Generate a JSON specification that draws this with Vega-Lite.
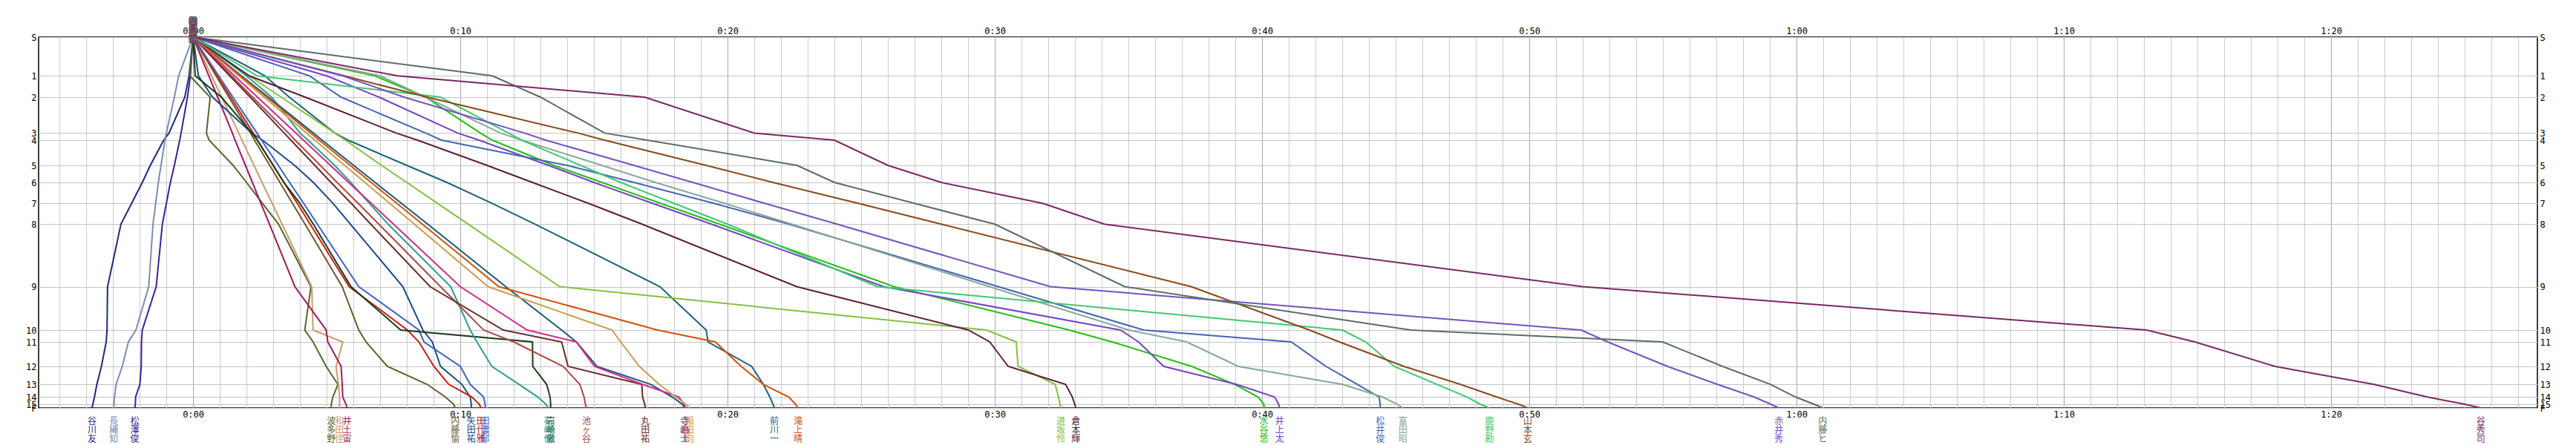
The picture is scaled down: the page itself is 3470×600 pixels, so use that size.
{
"$schema": "https://vega.github.io/schema/vega-lite/v6.json",
"width": 3366, "height": 500,
"autosize": "none",
"padding": {"left": 52, "top": 50, "right": 52, "bottom": 50},
"background": "white",
"config": {"view": {"stroke": "#000000", "strokeWidth": 1.5}},
"datasets": {"pts": [
{"n":"谷川友","d":0,"t":0},{"n":"谷川友","d":52.3,"t":-0.15},{"n":"谷川友","d":81,"t":-0.31},{"n":"谷川友","d":129.4,"t":-0.9},{"n":"谷川友","d":139,"t":-1.1},{"n":"谷川友","d":173,"t":-1.6},{"n":"谷川友","d":196,"t":-1.9},{"n":"谷川友","d":224.3,"t":-2.3},{"n":"谷川友","d":252.3,"t":-2.7},{"n":"谷川友","d":336.5,"t":-3.2},{"n":"谷川友","d":395,"t":-3.22},{"n":"谷川友","d":411,"t":-3.25},{"n":"谷川友","d":444,"t":-3.43},{"n":"谷川友","d":468.3,"t":-3.6},{"n":"谷川友","d":485.3,"t":-3.69},{"n":"谷川友","d":495,"t":-3.75},{"n":"谷川友","d":500,"t":-3.78},
{"n":"長縄知","d":0,"t":0},{"n":"長縄知","d":52.3,"t":-0.54},{"n":"長縄知","d":81,"t":-0.7},{"n":"長縄知","d":129.4,"t":-1.0},{"n":"長縄知","d":139,"t":-1.05},{"n":"長縄知","d":173,"t":-1.2},{"n":"長縄知","d":196,"t":-1.3},{"n":"長縄知","d":224.3,"t":-1.4},{"n":"長縄知","d":252.3,"t":-1.5},{"n":"長縄知","d":336.5,"t":-1.66},{"n":"長縄知","d":395,"t":-2.14},{"n":"長縄知","d":411,"t":-2.42},{"n":"長縄知","d":444,"t":-2.65},{"n":"長縄知","d":468.3,"t":-2.88},{"n":"長縄知","d":485.3,"t":-2.94},{"n":"長縄知","d":495,"t":-2.96},{"n":"長縄知","d":500,"t":-2.97},
{"n":"松澤俊","d":0,"t":0},{"n":"松澤俊","d":52.3,"t":-0.1},{"n":"松澤俊","d":81,"t":-0.21},{"n":"松澤俊","d":129.4,"t":-0.45},{"n":"松澤俊","d":139,"t":-0.5},{"n":"松澤俊","d":173,"t":-0.7},{"n":"松澤俊","d":196,"t":-0.85},{"n":"松澤俊","d":224.3,"t":-1.0},{"n":"松澤俊","d":252.3,"t":-1.15},{"n":"松澤俊","d":336.5,"t":-1.38},{"n":"松澤俊","d":395,"t":-1.9},{"n":"松澤俊","d":411,"t":-1.93},{"n":"松澤俊","d":444,"t":-1.94},{"n":"松澤俊","d":468.3,"t":-1.99},{"n":"松澤俊","d":485.3,"t":-2.15},{"n":"松澤俊","d":495,"t":-2.16},{"n":"松澤俊","d":500,"t":-2.18},
{"n":"波多野","d":0,"t":0},{"n":"波多野","d":52.3,"t":-0.12},{"n":"波多野","d":81,"t":0.64},{"n":"波多野","d":129.4,"t":0.5},{"n":"波多野","d":139,"t":0.6},{"n":"波多野","d":173,"t":1.5},{"n":"波多野","d":196,"t":2.0},{"n":"波多野","d":224.3,"t":2.6},{"n":"波多野","d":252.3,"t":3.2},{"n":"波多野","d":336.5,"t":4.41},{"n":"波多野","d":395,"t":4.18},{"n":"波多野","d":411,"t":4.49},{"n":"波多野","d":444,"t":4.98},{"n":"波多野","d":468.3,"t":5.42},{"n":"波多野","d":485.3,"t":5.23},{"n":"波多野","d":495,"t":5.17},{"n":"波多野","d":500,"t":5.17},
{"n":"和田佳","d":0,"t":0},{"n":"和田佳","d":52.3,"t":0.69},{"n":"和田佳","d":81,"t":1.07},{"n":"和田佳","d":129.4,"t":1.71},{"n":"和田佳","d":139,"t":1.83},{"n":"和田佳","d":173,"t":2.28},{"n":"和田佳","d":196,"t":2.58},{"n":"和田佳","d":224.3,"t":2.96},{"n":"和田佳","d":252.3,"t":3.33},{"n":"和田佳","d":336.5,"t":4.44},{"n":"和田佳","d":395,"t":4.49},{"n":"和田佳","d":411,"t":5.6},{"n":"和田佳","d":444,"t":5.35},{"n":"和田佳","d":468.3,"t":5.44},{"n":"和田佳","d":485.3,"t":5.48},{"n":"和田佳","d":495,"t":5.48},{"n":"和田佳","d":500,"t":5.48},
{"n":"井土宙","d":0,"t":0},{"n":"井土宙","d":52.3,"t":0.59},{"n":"井土宙","d":81,"t":0.92},{"n":"井土宙","d":129.4,"t":1.47},{"n":"井土宙","d":139,"t":1.57},{"n":"井土宙","d":173,"t":1.96},{"n":"井土宙","d":196,"t":2.22},{"n":"井土宙","d":224.3,"t":2.54},{"n":"井土宙","d":252.3,"t":2.86},{"n":"井土宙","d":336.5,"t":3.81},{"n":"井土宙","d":395,"t":4.98},{"n":"井土宙","d":411,"t":5.04},{"n":"井土宙","d":444,"t":5.54},{"n":"井土宙","d":468.3,"t":5.58},{"n":"井土宙","d":485.3,"t":5.6},{"n":"井土宙","d":495,"t":5.72},{"n":"井土宙","d":500,"t":5.76},
{"n":"内藤愉","d":0,"t":0},{"n":"内藤愉","d":52.3,"t":0.86},{"n":"内藤愉","d":81,"t":1.34},{"n":"内藤愉","d":129.4,"t":2.15},{"n":"内藤愉","d":139,"t":2.3},{"n":"内藤愉","d":173,"t":2.87},{"n":"内藤愉","d":196,"t":3.25},{"n":"内藤愉","d":224.3,"t":3.72},{"n":"内藤愉","d":252.3,"t":4.19},{"n":"内藤愉","d":336.5,"t":5.58},{"n":"内藤愉","d":395,"t":6.2},{"n":"内藤愉","d":411,"t":6.47},{"n":"内藤愉","d":444,"t":7.27},{"n":"内藤愉","d":468.3,"t":8.76},{"n":"内藤愉","d":485.3,"t":9.44},{"n":"内藤愉","d":495,"t":9.75},{"n":"内藤愉","d":500,"t":9.81},
{"n":"矢田祐","d":0,"t":0},{"n":"矢田祐","d":52.3,"t":0.2},{"n":"矢田祐","d":81,"t":0.73},{"n":"矢田祐","d":129.4,"t":2.2},{"n":"矢田祐","d":139,"t":2.6},{"n":"矢田祐","d":173,"t":3.8},{"n":"矢田祐","d":196,"t":4.5},{"n":"矢田祐","d":224.3,"t":5.24},{"n":"矢田祐","d":252.3,"t":5.89},{"n":"矢田祐","d":336.5,"t":7.85},{"n":"矢田祐","d":395,"t":8.6},{"n":"矢田祐","d":411,"t":8.95},{"n":"矢田祐","d":444,"t":9.26},{"n":"矢田祐","d":468.3,"t":10.06},{"n":"矢田祐","d":485.3,"t":10.37},{"n":"矢田祐","d":495,"t":10.41},{"n":"矢田祐","d":500,"t":10.41},
{"n":"田代雅","d":0,"t":0},{"n":"田代雅","d":52.3,"t":0.9},{"n":"田代雅","d":81,"t":1.41},{"n":"田代雅","d":129.4,"t":2.25},{"n":"田代雅","d":139,"t":2.41},{"n":"田代雅","d":173,"t":3.0},{"n":"田代雅","d":196,"t":3.4},{"n":"田代雅","d":224.3,"t":3.9},{"n":"田代雅","d":252.3,"t":4.38},{"n":"田代雅","d":336.5,"t":5.84},{"n":"田代雅","d":395,"t":8.02},{"n":"田代雅","d":411,"t":8.45},{"n":"田代雅","d":444,"t":9.01},{"n":"田代雅","d":468.3,"t":9.57},{"n":"田代雅","d":485.3,"t":10.43},{"n":"田代雅","d":495,"t":10.71},{"n":"田代雅","d":500,"t":10.77},
{"n":"田濃郁","d":0,"t":0},{"n":"田濃郁","d":52.3,"t":0.96},{"n":"田濃郁","d":81,"t":1.49},{"n":"田濃郁","d":129.4,"t":2.39},{"n":"田濃郁","d":139,"t":2.56},{"n":"田濃郁","d":173,"t":3.19},{"n":"田濃郁","d":196,"t":3.61},{"n":"田濃郁","d":224.3,"t":4.14},{"n":"田濃郁","d":252.3,"t":4.65},{"n":"田濃郁","d":336.5,"t":6.2},{"n":"田濃郁","d":395,"t":8.45},{"n":"田濃郁","d":411,"t":8.64},{"n":"田濃郁","d":444,"t":10.0},{"n":"田濃郁","d":468.3,"t":10.37},{"n":"田濃郁","d":485.3,"t":10.87},{"n":"田濃郁","d":495,"t":10.93},{"n":"田濃郁","d":500,"t":10.93},
{"n":"岩崎傲","d":0,"t":0},{"n":"岩崎傲","d":52.3,"t":0.08},{"n":"岩崎傲","d":81,"t":1.06},{"n":"岩崎傲","d":129.4,"t":2.2},{"n":"岩崎傲","d":139,"t":2.4},{"n":"岩崎傲","d":173,"t":3.0},{"n":"岩崎傲","d":196,"t":3.4},{"n":"岩崎傲","d":224.3,"t":4.0},{"n":"岩崎傲","d":252.3,"t":4.5},{"n":"岩崎傲","d":336.5,"t":5.91},{"n":"岩崎傲","d":395,"t":7.77},{"n":"岩崎傲","d":411,"t":12.7},{"n":"岩崎傲","d":444,"t":12.71},{"n":"岩崎傲","d":468.3,"t":13.23},{"n":"岩崎傲","d":485.3,"t":13.36},{"n":"岩崎傲","d":495,"t":13.38},{"n":"岩崎傲","d":500,"t":13.38},
{"n":"石崎俊","d":0,"t":0},{"n":"石崎俊","d":52.3,"t":2.0},{"n":"石崎俊","d":81,"t":2.94},{"n":"石崎俊","d":129.4,"t":4.0},{"n":"石崎俊","d":139,"t":4.3},{"n":"石崎俊","d":173,"t":5.3},{"n":"石崎俊","d":196,"t":5.9},{"n":"石崎俊","d":224.3,"t":6.6},{"n":"石崎俊","d":252.3,"t":7.3},{"n":"石崎俊","d":336.5,"t":9.64},{"n":"石崎俊","d":395,"t":10.37},{"n":"石崎俊","d":411,"t":10.62},{"n":"石崎俊","d":444,"t":11.18},{"n":"石崎俊","d":468.3,"t":12.2},{"n":"石崎俊","d":485.3,"t":12.9},{"n":"石崎俊","d":495,"t":13.2},{"n":"石崎俊","d":500,"t":13.29},
{"n":"池ヶ谷","d":0,"t":0},{"n":"池ヶ谷","d":52.3,"t":1.44},{"n":"池ヶ谷","d":81,"t":2.23},{"n":"池ヶ谷","d":129.4,"t":3.57},{"n":"池ヶ谷","d":139,"t":3.82},{"n":"池ヶ谷","d":173,"t":4.76},{"n":"池ヶ谷","d":196,"t":5.39},{"n":"池ヶ谷","d":224.3,"t":6.18},{"n":"池ヶ谷","d":252.3,"t":6.95},{"n":"池ヶ谷","d":336.5,"t":9.26},{"n":"池ヶ谷","d":395,"t":10.87},{"n":"池ヶ谷","d":411,"t":12.0},{"n":"池ヶ谷","d":444,"t":13.85},{"n":"池ヶ谷","d":468.3,"t":14.47},{"n":"池ヶ谷","d":485.3,"t":14.63},{"n":"池ヶ谷","d":495,"t":14.68},{"n":"池ヶ谷","d":500,"t":14.72},
{"n":"丸田祐","d":0,"t":0},{"n":"丸田祐","d":52.3,"t":1.37},{"n":"丸田祐","d":81,"t":2.14},{"n":"丸田祐","d":129.4,"t":3.41},{"n":"丸田祐","d":139,"t":3.66},{"n":"丸田祐","d":173,"t":4.56},{"n":"丸田祐","d":196,"t":5.16},{"n":"丸田祐","d":224.3,"t":5.92},{"n":"丸田祐","d":252.3,"t":6.65},{"n":"丸田祐","d":336.5,"t":8.87},{"n":"丸田祐","d":395,"t":11.61},{"n":"丸田祐","d":411,"t":13.79},{"n":"丸田祐","d":444,"t":14.03},{"n":"丸田祐","d":468.3,"t":16.79},{"n":"丸田祐","d":485.3,"t":16.82},{"n":"丸田祐","d":495,"t":16.9},{"n":"丸田祐","d":500,"t":16.92},
{"n":"寺嶋士","d":0,"t":0},{"n":"寺嶋士","d":52.3,"t":1.81},{"n":"寺嶋士","d":81,"t":2.82},{"n":"寺嶋士","d":129.4,"t":4.5},{"n":"寺嶋士","d":139,"t":4.83},{"n":"寺嶋士","d":173,"t":6.01},{"n":"寺嶋士","d":196,"t":6.81},{"n":"寺嶋士","d":224.3,"t":7.8},{"n":"寺嶋士","d":252.3,"t":8.78},{"n":"寺嶋士","d":336.5,"t":11.7},{"n":"寺嶋士","d":395,"t":13.79},{"n":"寺嶋士","d":411,"t":14.34},{"n":"寺嶋士","d":444,"t":15.11},{"n":"寺嶋士","d":468.3,"t":17.13},{"n":"寺嶋士","d":485.3,"t":17.93},{"n":"寺嶋士","d":495,"t":18.3},{"n":"寺嶋士","d":500,"t":18.39},
{"n":"寺島土","d":0,"t":0},{"n":"寺島土","d":52.3,"t":1.55},{"n":"寺島土","d":81,"t":2.41},{"n":"寺島土","d":129.4,"t":3.85},{"n":"寺島土","d":139,"t":4.13},{"n":"寺島土","d":173,"t":5.14},{"n":"寺島土","d":196,"t":5.82},{"n":"寺島土","d":224.3,"t":6.67},{"n":"寺島土","d":252.3,"t":7.5},{"n":"寺島土","d":336.5,"t":10.0},{"n":"寺島土","d":395,"t":12.5},{"n":"寺島土","d":411,"t":14.34},{"n":"寺島土","d":444,"t":15.02},{"n":"寺島土","d":468.3,"t":16.82},{"n":"寺島土","d":485.3,"t":18.18},{"n":"寺島土","d":495,"t":18.37},{"n":"寺島土","d":500,"t":18.43},
{"n":"稲田向","d":0,"t":0},{"n":"稲田向","d":52.3,"t":1.71},{"n":"稲田向","d":81,"t":2.66},{"n":"稲田向","d":129.4,"t":4.25},{"n":"稲田向","d":139,"t":4.56},{"n":"稲田向","d":173,"t":5.67},{"n":"稲田向","d":196,"t":6.43},{"n":"稲田向","d":224.3,"t":7.36},{"n":"稲田向","d":252.3,"t":8.28},{"n":"稲田向","d":336.5,"t":11.04},{"n":"稲田向","d":395,"t":15.68},{"n":"稲田向","d":411,"t":16.0},{"n":"稲田向","d":444,"t":16.7},{"n":"稲田向","d":468.3,"t":17.44},{"n":"稲田向","d":485.3,"t":18.06},{"n":"稲田向","d":495,"t":18.43},{"n":"稲田向","d":500,"t":18.58},
{"n":"前川一","d":0,"t":0},{"n":"前川一","d":52.3,"t":2.69},{"n":"前川一","d":81,"t":3.6},{"n":"前川一","d":129.4,"t":5.3},{"n":"前川一","d":139,"t":5.8},{"n":"前川一","d":173,"t":8.0},{"n":"前川一","d":196,"t":9.5},{"n":"前川一","d":224.3,"t":11.2},{"n":"前川一","d":252.3,"t":12.8},{"n":"前川一","d":336.5,"t":17.47},{"n":"前川一","d":395,"t":19.2},{"n":"前川一","d":411,"t":19.27},{"n":"前川一","d":444,"t":20.9},{"n":"前川一","d":468.3,"t":21.34},{"n":"前川一","d":485.3,"t":21.58},{"n":"前川一","d":495,"t":21.7},{"n":"前川一","d":500,"t":21.75},
{"n":"滝上晴","d":0,"t":0},{"n":"滝上晴","d":52.3,"t":1.77},{"n":"滝上晴","d":81,"t":2.76},{"n":"滝上晴","d":129.4,"t":4.4},{"n":"滝上晴","d":139,"t":4.72},{"n":"滝上晴","d":173,"t":5.88},{"n":"滝上晴","d":196,"t":6.66},{"n":"滝上晴","d":224.3,"t":7.63},{"n":"滝上晴","d":252.3,"t":8.58},{"n":"滝上晴","d":336.5,"t":11.44},{"n":"滝上晴","d":395,"t":17.38},{"n":"滝上晴","d":411,"t":19.54},{"n":"滝上晴","d":444,"t":20.51},{"n":"滝上晴","d":468.3,"t":21.34},{"n":"滝上晴","d":485.3,"t":22.29},{"n":"滝上晴","d":495,"t":22.54},{"n":"滝上晴","d":500,"t":22.64},
{"n":"道坂怜","d":0,"t":0},{"n":"道坂怜","d":52.3,"t":2.1},{"n":"道坂怜","d":81,"t":3.3},{"n":"道坂怜","d":129.4,"t":5.3},{"n":"道坂怜","d":139,"t":5.7},{"n":"道坂怜","d":173,"t":7.05},{"n":"道坂怜","d":196,"t":8.0},{"n":"道坂怜","d":224.3,"t":9.15},{"n":"道坂怜","d":252.3,"t":10.3},{"n":"道坂怜","d":336.5,"t":13.72},{"n":"道坂怜","d":395,"t":29.69},{"n":"道坂怜","d":411,"t":30.8},{"n":"道坂怜","d":444,"t":30.87},{"n":"道坂怜","d":468.3,"t":32.26},{"n":"道坂怜","d":485.3,"t":32.38},{"n":"道坂怜","d":495,"t":32.44},{"n":"道坂怜","d":500,"t":32.47},
{"n":"倉本輝","d":0,"t":0},{"n":"倉本輝","d":52.3,"t":2.1},{"n":"倉本輝","d":81,"t":4.2},{"n":"倉本輝","d":129.4,"t":7.6},{"n":"倉本輝","d":139,"t":8.4},{"n":"倉本輝","d":173,"t":11.0},{"n":"倉本輝","d":196,"t":12.7},{"n":"倉本輝","d":224.3,"t":14.8},{"n":"倉本輝","d":252.3,"t":16.8},{"n":"倉本輝","d":336.5,"t":22.59},{"n":"倉本輝","d":395,"t":29.01},{"n":"倉本輝","d":411,"t":29.81},{"n":"倉本輝","d":444,"t":30.5},{"n":"倉本輝","d":468.3,"t":32.65},{"n":"倉本輝","d":485.3,"t":32.9},{"n":"倉本輝","d":495,"t":32.99},{"n":"倉本輝","d":500,"t":33.03},
{"n":"水谷悠","d":0,"t":0},{"n":"水谷悠","d":52.3,"t":6.8},{"n":"水谷悠","d":81,"t":8.7},{"n":"水谷悠","d":129.4,"t":10.75},{"n":"水谷悠","d":139,"t":11.2},{"n":"水谷悠","d":173,"t":13.5},{"n":"水谷悠","d":196,"t":15.3},{"n":"水谷悠","d":224.3,"t":17.5},{"n":"水谷悠","d":252.3,"t":19.7},{"n":"水谷悠","d":336.5,"t":26.23},{"n":"水谷悠","d":395,"t":32.78},{"n":"水谷悠","d":411,"t":34.39},{"n":"水谷悠","d":444,"t":37.37},{"n":"水谷悠","d":468.3,"t":38.98},{"n":"水谷悠","d":485.3,"t":39.85},{"n":"水谷悠","d":495,"t":40.07},{"n":"水谷悠","d":500,"t":40.07},
{"n":"井上太","d":0,"t":0},{"n":"井上太","d":52.3,"t":5.0},{"n":"井上太","d":81,"t":6.96},{"n":"井上太","d":129.4,"t":9.9},{"n":"井上太","d":139,"t":10.7},{"n":"井上太","d":173,"t":13.3},{"n":"井上太","d":196,"t":15.0},{"n":"井上太","d":224.3,"t":17.2},{"n":"井上太","d":252.3,"t":19.4},{"n":"井上太","d":336.5,"t":25.84},{"n":"井上太","d":395,"t":34.7},{"n":"井上太","d":411,"t":35.38},{"n":"井上太","d":444,"t":36.32},{"n":"井上太","d":468.3,"t":39.04},{"n":"井上太","d":485.3,"t":40.47},{"n":"井上太","d":495,"t":40.62},{"n":"井上太","d":500,"t":40.66},
{"n":"松井俊","d":0,"t":0},{"n":"松井俊","d":52.3,"t":4.36},{"n":"松井俊","d":81,"t":5.54},{"n":"松井俊","d":129.4,"t":8.7},{"n":"松井俊","d":139,"t":9.3},{"n":"松井俊","d":173,"t":14.0},{"n":"松井俊","d":196,"t":16.5},{"n":"松井俊","d":224.3,"t":19.5},{"n":"松井俊","d":252.3,"t":22.3},{"n":"松井俊","d":336.5,"t":30.13},{"n":"松井俊","d":395,"t":35.57},{"n":"松井俊","d":411,"t":41.09},{"n":"松井俊","d":444,"t":42.39},{"n":"松井俊","d":468.3,"t":43.57},{"n":"松井俊","d":485.3,"t":44.38},{"n":"松井俊","d":495,"t":44.42},{"n":"松井俊","d":500,"t":44.42},
{"n":"富田昭","d":0,"t":0},{"n":"富田昭","d":52.3,"t":7.0},{"n":"富田昭","d":81,"t":8.7},{"n":"富田昭","d":129.4,"t":11.5},{"n":"富田昭","d":139,"t":12.3},{"n":"富田昭","d":173,"t":15.3},{"n":"富田昭","d":196,"t":17.3},{"n":"富田昭","d":224.3,"t":19.9},{"n":"富田昭","d":252.3,"t":22.4},{"n":"富田昭","d":336.5,"t":29.8},{"n":"富田昭","d":395,"t":35.01},{"n":"富田昭","d":411,"t":37.18},{"n":"富田昭","d":444,"t":39.11},{"n":"富田昭","d":468.3,"t":43.01},{"n":"富田昭","d":485.3,"t":44.5},{"n":"富田昭","d":495,"t":45.06},{"n":"富田昭","d":500,"t":45.27},
{"n":"鹿野勘","d":0,"t":0},{"n":"鹿野勘","d":52.3,"t":2.4},{"n":"鹿野勘","d":81,"t":9.26},{"n":"鹿野勘","d":129.4,"t":11.8},{"n":"鹿野勘","d":139,"t":12.3},{"n":"鹿野勘","d":173,"t":14.5},{"n":"鹿野勘","d":196,"t":16.0},{"n":"鹿野勘","d":224.3,"t":18.0},{"n":"鹿野勘","d":252.3,"t":20.0},{"n":"鹿野勘","d":336.5,"t":25.6},{"n":"鹿野勘","d":395,"t":43.01},{"n":"鹿野勘","d":411,"t":43.88},{"n":"鹿野勘","d":444,"t":44.94},{"n":"鹿野勘","d":468.3,"t":46.55},{"n":"鹿野勘","d":485.3,"t":47.67},{"n":"鹿野勘","d":495,"t":48.16},{"n":"鹿野勘","d":500,"t":48.51},
{"n":"山本玄","d":0,"t":0},{"n":"山本玄","d":52.3,"t":5.66},{"n":"山本玄","d":81,"t":8.76},{"n":"山本玄","d":129.4,"t":14.4},{"n":"山本玄","d":139,"t":15.4},{"n":"山本玄","d":173,"t":19.2},{"n":"山本玄","d":196,"t":21.7},{"n":"山本玄","d":224.3,"t":24.9},{"n":"山本玄","d":252.3,"t":28.0},{"n":"山本玄","d":336.5,"t":37.35},{"n":"山本玄","d":395,"t":41.77},{"n":"山本玄","d":411,"t":42.89},{"n":"山本玄","d":444,"t":45.31},{"n":"山本玄","d":468.3,"t":47.42},{"n":"山本玄","d":485.3,"t":48.78},{"n":"山本玄","d":495,"t":49.59},{"n":"山本玄","d":500,"t":49.94},
{"n":"赤井秀","d":0,"t":0},{"n":"赤井秀","d":52.3,"t":5.6},{"n":"赤井秀","d":81,"t":7.9},{"n":"赤井秀","d":129.4,"t":12.4},{"n":"赤井秀","d":139,"t":13.2},{"n":"赤井秀","d":173,"t":16.5},{"n":"赤井秀","d":196,"t":18.7},{"n":"赤井秀","d":224.3,"t":21.4},{"n":"赤井秀","d":252.3,"t":24.1},{"n":"赤井秀","d":336.5,"t":32.08},{"n":"赤井秀","d":395,"t":51.94},{"n":"赤井秀","d":411,"t":52.93},{"n":"赤井秀","d":444,"t":55.17},{"n":"赤井秀","d":468.3,"t":57.04},{"n":"赤井秀","d":485.3,"t":58.41},{"n":"赤井秀","d":495,"t":59.03},{"n":"赤井秀","d":500,"t":59.34},
{"n":"内藤ヒ","d":0,"t":0},{"n":"内藤ヒ","d":52.3,"t":11.2},{"n":"内藤ヒ","d":81,"t":13.0},{"n":"内藤ヒ","d":129.4,"t":15.4},{"n":"内藤ヒ","d":139,"t":17.0},{"n":"内藤ヒ","d":173,"t":22.6},{"n":"内藤ヒ","d":196,"t":24.0},{"n":"内藤ヒ","d":224.3,"t":27.0},{"n":"内藤ヒ","d":252.3,"t":30.0},{"n":"内藤ヒ","d":336.5,"t":34.86},{"n":"内藤ヒ","d":395,"t":45.56},{"n":"内藤ヒ","d":411,"t":54.99},{"n":"内藤ヒ","d":444,"t":57.23},{"n":"内藤ヒ","d":468.3,"t":59.03},{"n":"内藤ヒ","d":485.3,"t":59.96},{"n":"内藤ヒ","d":495,"t":60.65},{"n":"内藤ヒ","d":500,"t":60.98},
{"n":"谷秀司","d":0,"t":0},{"n":"谷秀司","d":52.3,"t":7.65},{"n":"谷秀司","d":81,"t":16.9},{"n":"谷秀司","d":129.4,"t":21.0},{"n":"谷秀司","d":139,"t":24.0},{"n":"谷秀司","d":173,"t":26.0},{"n":"谷秀司","d":196,"t":28.0},{"n":"谷秀司","d":224.3,"t":31.8},{"n":"谷秀司","d":252.3,"t":34.1},{"n":"谷秀司","d":336.5,"t":52.0},{"n":"谷秀司","d":395,"t":73.1},{"n":"谷秀司","d":411,"t":74.9},{"n":"谷秀司","d":444,"t":77.9},{"n":"谷秀司","d":468.3,"t":81.6},{"n":"谷秀司","d":485.3,"t":83.6},{"n":"谷秀司","d":495,"t":85.0},{"n":"谷秀司","d":500,"t":85.6}
]},
"resolve": {"axis": {"x": "independent", "y": "independent"}},
"layer": [
{
"data": {"name": "pts"},
"mark": {"type": "line", "strokeWidth": 2, "clip": true},
"encoding": {
"x": {"field": "t", "type": "quantitative", "scale": {"domain": [-5.78, 87.72], "nice": false, "zero": false},
"axis": {"orient": "bottom", "title": null, "values": [-5,-4,-3,-2,-1,0,1,2,3,4,5,6,7,8,9,10,11,12,13,14,15,16,17,18,19,20,21,22,23,24,25,26,27,28,29,30,31,32,33,34,35,36,37,38,39,40,41,42,43,44,45,46,47,48,49,50,51,52,53,54,55,56,57,58,59,60,61,62,63,64,65,66,67,68,69,70,71,72,73,74,75,76,77,78,79,80,81,82,83,84,85,86,87],
"labelExpr": "datum.value % 10 === 0 ? floor(datum.value / 60) + ':' + (datum.value % 60 < 10 ? '0' : '') + (datum.value % 60) : ''",
"grid": true, "gridColor": {"condition": {"test": "datum.value % 10 === 0", "value": "#a8a8a8"}, "value": "#cccccc"}, "gridWidth": 1,
"ticks": false, "domain": false, "labelFont": "DejaVu Sans Mono", "labelFontSize": 12, "labelColor": "#000000", "labelPadding": 3, "labelOverlap": false, "labelBound": false}},
"y": {"field": "d", "type": "quantitative", "scale": {"domain": [0, 500], "reverse": true, "nice": false, "zero": false},
"axis": {"orient": "left", "title": null, "values": [0,52.3,81,129.4,139,173,196,224.3,252.3,336.5,395,411,444,468.3,485.3,495,500],
"labelExpr": "['S','1','2','3','4','5','6','7','8','9','10','11','12','13','14','15','F'][indexof([0,52.3,81,129.4,139,173,196,224.3,252.3,336.5,395,411,444,468.3,485.3,495,500], datum.value)]",
"grid": true, "gridColor": "#c4c4c4", "ticks": false, "domain": false, "labelFont": "DejaVu Sans Mono", "labelFontSize": 12, "labelColor": "#000000", "labelPadding": 3, "labelOverlap": false, "labelBound": false}},
"color": {"field": "n", "type": "nominal", "legend": null,
"scale": {"domain": ["谷川友","長縄知","松澤俊","波多野","和田佳","井土宙","内藤愉","矢田祐","田代雅","田濃郁","岩崎傲","石崎俊","池ヶ谷","丸田祐","寺嶋士","寺島土","稲田向","前川一","滝上晴","道坂怜","倉本輝","水谷悠","井上太","松井俊","富田昭","鹿野勘","山本玄","赤井秀","内藤ヒ","谷秀司"],
"range": ["#1c2a80","#7a8db5","#3a20a0","#56662a","#cc9a70","#a3185a","#6b5a2c","#1a4a88","#d01a10","#3a64c8","#183c14","#2aa090","#ae4848","#6a2c2c","#1a5878","#d42a8c","#c89e50","#18647c","#d4500c","#84c040","#5e1e34","#22c010","#7444c4","#4464b4","#88a898","#40c870","#8a4818","#7452c0","#5a6e64","#7a2862"]}},
"detail": {"field": "n"},
"order": {"field": "d", "type": "quantitative"}
}
},
{
"data": {"name": "pts"},
"transform": [{"filter": "datum.d === 500"}, {"calculate": "split(datum.n, '')", "as": "lab"}],
"mark": {"type": "text", "font": "Noto Sans CJK JP", "fontSize": 12, "lineHeight": 12, "baseline": "top", "align": "center", "dy": 13},
"encoding": {
"x": {"field": "t", "type": "quantitative", "scale": {"domain": [-5.78, 87.72], "nice": false, "zero": false},
"axis": {"orient": "top", "title": null, "values": [0,10,20,30,40,50,60,70,80],
"labelExpr": "floor(datum.value / 60) + ':' + (datum.value % 60 < 10 ? '0' : '') + (datum.value % 60)",
"grid": false, "ticks": false, "domain": false, "labelFont": "DejaVu Sans Mono", "labelFontSize": 12, "labelColor": "#000000", "labelPadding": 2, "labelOverlap": false, "labelBound": false}},
"y": {"field": "d", "type": "quantitative", "scale": {"domain": [0, 500], "reverse": true, "nice": false, "zero": false},
"axis": {"orient": "right", "title": null, "values": [0,52.3,81,129.4,139,173,196,224.3,252.3,336.5,395,411,444,468.3,485.3,495,500],
"labelExpr": "['S','1','2','3','4','5','6','7','8','9','10','11','12','13','14','15','F'][indexof([0,52.3,81,129.4,139,173,196,224.3,252.3,336.5,395,411,444,468.3,485.3,495,500], datum.value)]",
"grid": false, "ticks": false, "domain": false, "labelFont": "DejaVu Sans Mono", "labelFontSize": 12, "labelColor": "#000000", "labelPadding": 3, "labelOverlap": false, "labelBound": false}},
"color": {"field": "n", "type": "nominal", "legend": null},
"text": {"field": "lab", "type": "nominal"}
}
},
{
"data": {"name": "pts"},
"transform": [{"filter": "datum.d === 500"}, {"calculate": "split(datum.n, '')", "as": "lab"}],
"mark": {"type": "text", "font": "Noto Sans CJK JP", "fontSize": 12, "lineHeight": 12, "baseline": "bottom", "align": "center", "dy": -14},
"encoding": {
"x": {"datum": 0, "type": "quantitative", "axis": null},
"y": {"datum": 0, "type": "quantitative", "axis": null},
"color": {"field": "n", "type": "nominal", "legend": null},
"text": {"field": "lab", "type": "nominal"}
}
}
]
}
